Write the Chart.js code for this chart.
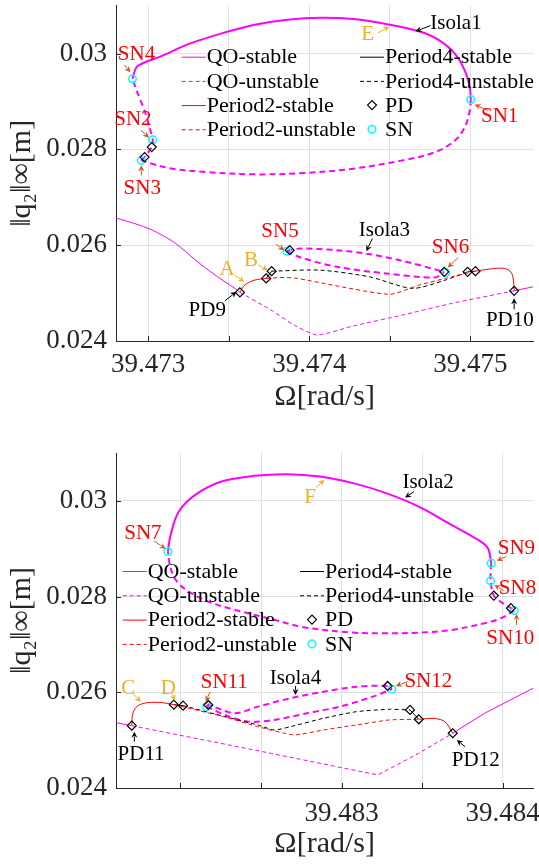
<!DOCTYPE html>
<html>
<head>
<meta charset="utf-8">
<script src="https://cdn.jsdelivr.net/npm/chart.js@4.4.1/dist/chart.umd.min.js"></script>
<style>
  html, body { margin: 0; padding: 0; background: #fff; }
  body { width: 539px; height: 864px; position: relative; overflow: hidden; }
  .panel { position: absolute; left: 0; width: 539px; }
  #top { top: 0; height: 430px; }
  #bottom { top: 430px; height: 434px; }
</style>
</head>
<body>
<div class="panel" id="top"><canvas id="chartTop" width="539" height="430"></canvas></div>
<div class="panel" id="bottom"><canvas id="chartBottom" width="539" height="434"></canvas></div>
<script>
// ---- upper panel: isola 1 and isola 3 ----
const topXGrid = [39.473, 39.4735, 39.474, 39.4745, 39.475];
const topXLabels = [39.473, 39.474, 39.475];
const yGrid = [0.024, 0.026, 0.028, 0.03];

const topMainStableL = [[39.47280,0.026569],[39.472947,0.026417],[39.473049,0.026277],[39.473171,0.026035],[39.473294,0.025688],[39.473416,0.025375],[39.473538,0.025098],[39.473569,0.025015]];
const topMainUnstable = [[39.473569,0.025015],[39.473762,0.024646],[39.473905,0.024333],[39.474048,0.024125],[39.474272,0.024313],[39.474578,0.024542],[39.474884,0.024785],[39.475271,0.025048]];
const topMainStableR = [[39.475271,0.025048],[39.475388,0.025131]];

const isola1Stable = [[39.472902,0.029473],[39.472927,0.029715],[39.472967,0.029798],[39.473089,0.029958],[39.473253,0.030202],[39.473456,0.030423],[39.473661,0.030604],[39.473864,0.030708],[39.474068,0.030750],[39.474272,0.030723],[39.474476,0.030619],[39.474680,0.030465],[39.474802,0.030285],[39.474904,0.029994],[39.474965,0.029646],[39.474996,0.029298],[39.475002,0.029042]];
const isola1UnstableLow = [[39.475002,0.029042],[39.474996,0.028813],[39.474965,0.028465],[39.474904,0.028188],[39.474782,0.027944],[39.474578,0.027771],[39.474272,0.027598],[39.473966,0.027506],[39.473661,0.027479],[39.473355,0.027527],[39.473150,0.027598],[39.472998,0.027723],[39.472957,0.027771]];
const isola1UnstableLeft = [[39.472957,0.027771],[39.472977,0.027840],[39.473022,0.028048],[39.473028,0.028202],[39.473008,0.028465],[39.472977,0.028813],[39.472936,0.029160],[39.472902,0.029473]];

const p2StableTopL = [[39.473569,0.025015],[39.473599,0.025167],[39.473661,0.025271],[39.473732,0.025306]];
const p2StableTopR = [[39.475031,0.025458],[39.475128,0.025506],[39.475210,0.025515],[39.475251,0.025438],[39.475267,0.025271],[39.475271,0.025048]];
const p2UnstableTop = [[39.473732,0.025306],[39.473844,0.025327],[39.473925,0.025306],[39.474496,0.024973],[39.474680,0.025167],[39.474843,0.025306],[39.475031,0.025458]];
const p4StableTopA = [[39.473732,0.025306],[39.473766,0.025458]];
const p4StableTopB = [[39.474982,0.025444],[39.475031,0.025458]];
const p4UnstableTop = [[39.473766,0.025458],[39.474068,0.025479],[39.474374,0.025340],[39.474639,0.025098],[39.474843,0.025271],[39.474982,0.025444]];

const isola3Upper = [[39.473860,0.025875],[39.473878,0.025896],[39.473946,0.025931],[39.474170,0.025896],[39.474374,0.025813],[39.474578,0.025673],[39.474782,0.025494],[39.474837,0.025444]];
const isola3Lower = [[39.473860,0.025875],[39.473946,0.025744],[39.474170,0.025548],[39.474476,0.025410],[39.474782,0.025327],[39.474837,0.025444]];

const pdTop = [[39.473022,0.028048],[39.472977,0.027840],[39.473569,0.025015],[39.473732,0.025306],[39.473766,0.025458],[39.473878,0.025896],[39.474837,0.025444],[39.474982,0.025444],[39.475031,0.025458],[39.475271,0.025048]];
const snTop = [[39.472902,0.029473],[39.475002,0.029042],[39.473028,0.028202],[39.472957,0.027771],[39.473860,0.025875],[39.474846,0.025427]];

// ---- lower panel: isola 2 and isola 4 ----
const botXGrid = [39.482, 39.4825, 39.483, 39.4835, 39.484];
const botXLabels = [39.483, 39.484];

const botMainStableL = [[39.481598,0.025365],[39.481698,0.025302]];
const botMainUnstable = [[39.481698,0.025302],[39.482459,0.024794],[39.483225,0.024272],[39.483479,0.024725],[39.483690,0.025144]];
const botMainStableR = [[39.483690,0.025144],[39.483888,0.025562],[39.484188,0.026084]];

const isola2Stable = [[39.481922,0.028940],[39.481939,0.029289],[39.481990,0.029776],[39.482092,0.030125],[39.482255,0.030403],[39.482459,0.030523],[39.482663,0.030558],[39.482867,0.030508],[39.483072,0.030370],[39.483276,0.030161],[39.483479,0.029881],[39.483683,0.029498],[39.483847,0.029185],[39.483908,0.029011],[39.483929,0.028698]];
const isola2UnstableRight = [[39.483929,0.028698],[39.483925,0.028328],[39.483945,0.028020],[39.483998,0.027868],[39.484051,0.027757],[39.484072,0.027707]];
const isola2UnstableLow = [[39.484072,0.027707],[39.483990,0.027548],[39.483888,0.027443],[39.483684,0.027303],[39.483479,0.027247],[39.483276,0.027234],[39.483072,0.027247],[39.482765,0.027360],[39.482561,0.027533],[39.482316,0.027742],[39.482173,0.027895],[39.482051,0.028104],[39.481979,0.028313],[39.481939,0.028593],[39.481922,0.028940]];

const p2StableBotL = [[39.481698,0.025302],[39.481705,0.025562],[39.481734,0.025714],[39.481795,0.025783],[39.481887,0.025783],[39.481959,0.025741]];
const p2StableBotR = [[39.483479,0.025436],[39.483582,0.025450],[39.483643,0.025380],[39.483690,0.025144]];
const p2UnstableBot = [[39.481959,0.025741],[39.482276,0.025484],[39.482480,0.025282],[39.482704,0.025108],[39.482888,0.025213],[39.483092,0.025317],[39.483296,0.025422],[39.483479,0.025436]];
const p4StableBotA = [[39.481959,0.025741],[39.482016,0.025721]];
const p4StableBotB = [[39.483425,0.025631],[39.483479,0.025436]];
const p4UnstableBot = [[39.482016,0.025721],[39.482276,0.025491],[39.482480,0.025317],[39.482582,0.025213],[39.482683,0.025282],[39.482888,0.025457],[39.483092,0.025595],[39.483296,0.025645],[39.483425,0.025631]];

const isola4Upper = [[39.482163,0.025700],[39.482173,0.025735],[39.482337,0.025562],[39.482480,0.025700],[39.482683,0.025875],[39.482888,0.026013],[39.483092,0.026118],[39.483286,0.026132],[39.483312,0.026063]];
const isola4Lower = [[39.482163,0.025700],[39.482276,0.025526],[39.482418,0.025386],[39.482582,0.025422],[39.482786,0.025562],[39.482990,0.025700],[39.483194,0.025909],[39.483312,0.026063]];

const pdBot = [[39.483945,0.028020],[39.484051,0.027757],[39.481698,0.025302],[39.481959,0.025741],[39.482016,0.025721],[39.482173,0.025735],[39.483286,0.026132],[39.483425,0.025631],[39.483479,0.025436],[39.483690,0.025144]];
const snBot = [[39.481922,0.028940],[39.483929,0.028698],[39.483925,0.028328],[39.484072,0.027707],[39.482163,0.025700],[39.483312,0.026063]];

// legend names, two columns
const legendCol1 = ['QO-stable', 'QO-unstable', 'Period2-stable', 'Period2-unstable'];
const legendCol2 = ['Period4-stable', 'Period4-unstable', 'PD', 'SN'];

// annotations: label, kind, arrow head (x, y), text offset px, arrow tail offset px
const notesTop = [
  ['SN4', 'sn', 39.472890, 0.029610, 6, -18.4, -6, -7],
  ['SN2', 'sn', 39.473004, 0.028244, -16, -19, -8, -7.5],
  ['SN3', 'sn', 39.472957, 0.027667, 1, 21.7, 0, 10],
  ['SN1', 'sn', 39.475026, 0.028938, 25, 11, 13.3, 6],
  ['E', 'pt', 39.474496, 0.030563, -21.6, 7.3, -11.6, 6.3],
  ['Isola1', 'tag', 39.474659, 0.030465, 40.5, -9.2, 15, -5.7],
  ['SN5', 'sn', 39.473844, 0.025896, -4.2, -20, -8.4, -6],
  ['Isola3', 'tag', 39.474354, 0.025875, 18, -22, 6, -12.7],
  ['SN6', 'sn', 39.474859, 0.025535, 2.8, -20.8, 10.6, -10],
  ['A', 'pt', 39.473595, 0.025235, -17, -13.7, -9.3, -6.7],
  ['B', 'pt', 39.473742, 0.025479, -16.7, -11, -9.3, -5],
  ['PD9', 'tag', 39.473548, 0.025027, -29.3, 17.3, -11.6, 9],
  ['PD10', 'tag', 39.475271, 0.024890, -4.3, 20.7, 0, 11]
];
const notesBot = [
  ['SN7', 'sn', 39.481908, 0.028997, -22.7, -16, -11.7, -8],
  ['F', 'pt', 39.482892, 0.030439, -14, 16.7, -8, 7.7],
  ['Isola2', 'tag', 39.483394, 0.030069, 23, -16, 9, -6],
  ['SN9', 'sn', 39.483963, 0.028746, 19.7, -13.5, 9.4, -4.3],
  ['SN8', 'sn', 39.483949, 0.028244, 23, 3, 9.3, 5.7],
  ['SN10', 'sn', 39.484086, 0.027638, -6.3, 23.5, 0, 11],
  ['C', 'pt', 39.481755, 0.025804, -12.7, -14.2, -8.4, -8.4],
  ['D', 'pt', 39.481965, 0.025825, -6.5, -13.2, -2.7, -7.4],
  ['SN11', 'sn', 39.482157, 0.025804, 18.5, -20, 4.4, -10],
  ['Isola4', 'tag', 39.482714, 0.025944, 0, -17.5, 0, -9],
  ['SN12', 'sn', 39.483337, 0.026132, 32.5, -5.3, 11.7, -4.3],
  ['PD11', 'tag', 39.481714, 0.025177, 6.7, 22.3, 0, 10],
  ['PD12', 'tag', 39.483715, 0.025003, 19, 19, 8.3, 6.7]
];

// ---- styles ----
const SERIF = '"Liberation Serif", "Times New Roman", serif';
const AXIS = '#262626';
const GRID = '#e0e0e0';
const MAGENTA = '#ff00ff';
const RED = '#ff0000';
const BLACK = '#000000';
const CYAN = '#00ffff';
const noteColors = {
  sn: { text: RED, arrow: '#d95319' },
  pt: { text: '#edb120', arrow: '#edb120' },
  tag: { text: BLACK, arrow: BLACK }
};
const legendStyle = {
  'QO-stable': { color: MAGENTA, dash: [] },
  'QO-unstable': { color: MAGENTA, dash: [4, 3] },
  'Period2-stable': { color: RED, dash: [] },
  'Period2-unstable': { color: RED, dash: [4, 3] },
  'Period4-stable': { color: BLACK, dash: [] },
  'Period4-unstable': { color: BLACK, dash: [4, 3] },
  'PD': { marker: 'diamond' },
  'SN': { marker: 'circle' }
};

function pts(a) {
  return a.map(p => ({ x: p[0], y: p[1] }));
}

function curve(data, color, width, dashed, tension) {
  return {
    data: pts(data),
    showLine: true,
    borderColor: color,
    borderWidth: width,
    borderDash: dashed ? (width > 1.5 ? [6, 4] : [4, 3]) : [],
    pointRadius: 0,
    pointHoverRadius: 0,
    tension: tension || 0,
    fill: false,
    order: 2
  };
}

function markers(data, kind) {
  const pd = kind === 'pd';
  return {
    data: pts(data),
    showLine: false,
    pointStyle: pd ? 'rectRot' : 'circle',
    pointRadius: pd ? 4.5 : 3.8,
    borderColor: pd ? BLACK : CYAN,
    borderWidth: pd ? 1.2 : 1.5,
    backgroundColor: 'rgba(0,0,0,0)',
    order: 0
  };
}

function arrow(ctx, x0, y0, x1, y1, color) {
  const a = Math.atan2(y1 - y0, x1 - x0);
  const L = 6, W = 3;
  ctx.strokeStyle = color;
  ctx.fillStyle = color;
  ctx.lineWidth = 1;
  ctx.setLineDash([]);
  ctx.beginPath();
  ctx.moveTo(x0, y0);
  ctx.lineTo(x1 - 0.8 * L * Math.cos(a), y1 - 0.8 * L * Math.sin(a));
  ctx.stroke();
  ctx.beginPath();
  ctx.moveTo(x1, y1);
  ctx.lineTo(x1 - L * Math.cos(a) + W * Math.sin(a), y1 - L * Math.sin(a) - W * Math.cos(a));
  ctx.lineTo(x1 - 0.7 * L * Math.cos(a), y1 - 0.7 * L * Math.sin(a));
  ctx.lineTo(x1 - L * Math.cos(a) - W * Math.sin(a), y1 - L * Math.sin(a) + W * Math.cos(a));
  ctx.closePath();
  ctx.fill();
}

// inward ticks, legend and annotations
const extrasPlugin = {
  id: 'extras',
  afterDraw(chart, args, opts) {
    const ctx = chart.ctx;
    const xs = chart.scales.x, ys = chart.scales.y, area = chart.chartArea;
    ctx.save();
    ctx.strokeStyle = AXIS;
    ctx.lineWidth = 1;
    xs.ticks.forEach(t => {
      const px = Math.round(xs.getPixelForValue(t.value)) + 0.5;
      ctx.beginPath(); ctx.moveTo(px, area.bottom); ctx.lineTo(px, area.bottom - 5); ctx.stroke();
    });
    ys.ticks.forEach(t => {
      const py = Math.round(ys.getPixelForValue(t.value)) + 0.5;
      ctx.beginPath(); ctx.moveTo(area.left, py); ctx.lineTo(area.left + 5, py); ctx.stroke();
    });

    // legend
    const lg = opts.legend;
    ctx.font = '22px ' + SERIF;
    ctx.textBaseline = 'middle';
    ctx.textAlign = 'left';
    [legendCol1, legendCol2].forEach((col, ci) => {
      const x0 = ci === 0 ? lg.col1 : lg.col2;
      col.forEach((name, ri) => {
        const y = lg.row0 + ri * lg.dy;
        const st = legendStyle[name];
        if (st.marker === 'diamond') {
          ctx.strokeStyle = BLACK; ctx.lineWidth = 1.2; ctx.setLineDash([]);
          const cx = x0 + 12;
          ctx.beginPath(); ctx.moveTo(cx - 4.5, y); ctx.lineTo(cx, y - 4.5); ctx.lineTo(cx + 4.5, y); ctx.lineTo(cx, y + 4.5); ctx.closePath(); ctx.stroke();
        } else if (st.marker === 'circle') {
          ctx.strokeStyle = CYAN; ctx.lineWidth = 1.5; ctx.setLineDash([]);
          ctx.beginPath(); ctx.arc(x0 + 12, y, 3.8, 0, Math.PI * 2); ctx.stroke();
        } else {
          ctx.strokeStyle = st.color; ctx.lineWidth = 1; ctx.setLineDash(st.dash);
          ctx.beginPath(); ctx.moveTo(x0, y + 0.5); ctx.lineTo(x0 + 24, y + 0.5); ctx.stroke();
        }
        ctx.setLineDash([]);
        ctx.fillStyle = BLACK;
        ctx.fillText(name, x0 + 25, y + 1);
      });
    });

    // annotations
    ctx.font = '21px ' + SERIF;
    ctx.textAlign = 'center';
    opts.notes.forEach(n => {
      const [label, kind, hx, hy, tdx, tdy, adx, ady] = n;
      const px = xs.getPixelForValue(hx), py = ys.getPixelForValue(hy);
      const c = noteColors[kind];
      arrow(ctx, px + adx, py + ady, px, py, c.arrow);
      ctx.fillStyle = c.text;
      ctx.fillText(label, px + tdx, py + tdy + 1);
    });
    ctx.restore();
  }
};

function panel(canvasId, datasets, xRange, xGrid, xLabels, layoutTop, xHeight, tickPad, titlePad, legend, notes) {
  const ctx = document.getElementById(canvasId).getContext('2d');
  return new Chart(ctx, {
    type: 'scatter',
    data: { datasets: datasets },
    plugins: [extrasPlugin],
    options: {
      responsive: false,
      animation: false,
      events: [],
      layout: { padding: { top: layoutTop, left: 0, right: 0, bottom: 0 } },
      plugins: {
        legend: { display: false },
        tooltip: { enabled: false },
        extras: { legend: legend, notes: notes }
      },
      scales: {
        x: {
          type: 'linear',
          min: xRange[0],
          max: xRange[1],
          afterBuildTicks: s => { s.ticks = xGrid.map(v => ({ value: v })); },
          afterFit: s => { s.height = xHeight; s.paddingLeft = 0; s.paddingRight = 0; },
          ticks: {
            autoSkip: false,
            maxRotation: 0,
            padding: tickPad,
            color: AXIS,
            font: { family: SERIF, size: 27 },
            callback: v => xLabels.some(l => Math.abs(l - v) < 1e-7) ? v.toFixed(3) : ''
          },
          grid: { color: GRID, drawTicks: false },
          border: { color: AXIS, width: 1 },
          title: {
            display: true,
            text: 'Ω[rad/s]',
            color: AXIS,
            font: { family: SERIF, size: 30 },
            padding: { top: 0, bottom: titlePad }
          }
        },
        y: {
          type: 'linear',
          min: 0.024,
          max: 0.031,
          afterBuildTicks: s => { s.ticks = yGrid.map(v => ({ value: v })); },
          afterFit: s => { s.width = 116; s.paddingTop = 0; s.paddingBottom = 0; },
          ticks: {
            padding: 9,
            color: AXIS,
            font: { family: SERIF, size: 27 },
            callback: v => String(+v.toFixed(3))
          },
          grid: { color: GRID, drawTicks: false },
          border: { color: AXIS, width: 1 },
          title: {
            display: true,
            text: '‖q₂‖∞[m]',
            color: AXIS,
            font: { family: SERIF, size: 30 },
            padding: { top: 4, bottom: 0 }
          }
        }
      }
    }
  });
}

function renderCharts() {
  const topSets = [
    markers(pdTop, 'pd'),
    markers(snTop, 'sn'),
    curve(topMainStableL, MAGENTA, 1, false, 0.3),
    curve(topMainUnstable, MAGENTA, 1, true, 0.2),
    curve(topMainStableR, MAGENTA, 1, false, 0),
    curve(isola1Stable, MAGENTA, 2, false, 0.35),
    curve(isola1UnstableLow, MAGENTA, 2, true, 0.35),
    curve(isola1UnstableLeft, MAGENTA, 2, true, 0.2),
    curve(p2StableTopL, RED, 1, false, 0.35),
    curve(p2StableTopR, RED, 1, false, 0.35),
    curve(p2UnstableTop, RED, 1, true, 0.2),
    curve(p4StableTopA, BLACK, 1, false, 0),
    curve(p4StableTopB, BLACK, 1, false, 0),
    curve(p4UnstableTop, BLACK, 1, true, 0.25),
    curve(isola3Upper, MAGENTA, 2, true, 0.3),
    curve(isola3Lower, MAGENTA, 2, true, 0.3)
  ];
  panel('chartTop', topSets, [39.4728, 39.47539], topXGrid, topXLabels, 5, 89, 8, 15,
    { col1: 181.7, col2: 360, row0: 56.7, dy: 24.2 }, notesTop);

  const botSets = [
    markers(pdBot, 'pd'),
    markers(snBot, 'sn'),
    curve(botMainStableL, MAGENTA, 1, false, 0),
    curve(botMainUnstable, MAGENTA, 1, true, 0),
    curve(botMainStableR, MAGENTA, 1, false, 0),
    curve(isola2Stable, MAGENTA, 2, false, 0.35),
    curve(isola2UnstableRight, MAGENTA, 2, true, 0.3),
    curve(isola2UnstableLow, MAGENTA, 2, true, 0.35),
    curve(p2StableBotL, RED, 1, false, 0.35),
    curve(p2StableBotR, RED, 1, false, 0.35),
    curve(p2UnstableBot, RED, 1, true, 0.15),
    curve(p4StableBotA, BLACK, 1, false, 0),
    curve(p4StableBotB, BLACK, 1, false, 0),
    curve(p4UnstableBot, BLACK, 1, true, 0.2),
    curve(isola4Upper, MAGENTA, 2, true, 0.3),
    curve(isola4Lower, MAGENTA, 2, true, 0.3)
  ];
  panel('chartBottom', botSets, [39.4816, 39.48419], botXGrid, botXLabels, 23, 76, 10, 2,
    { col1: 122.7, col2: 300, row0: 141, dy: 24.3 }, notesBot);
}

document.addEventListener('DOMContentLoaded', renderCharts);
</script>
</body>
</html>
